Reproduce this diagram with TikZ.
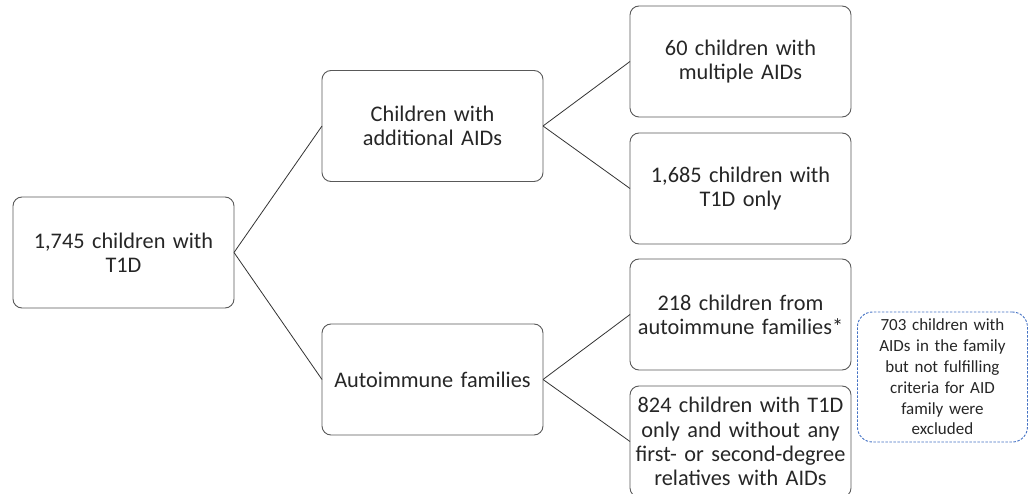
\documentclass[tikz,border=0pt]{standalone}
\usepackage{fontspec}
\setmainfont{Carlito}
\usetikzlibrary{positioning}
\definecolor{frame}{HTML}{595959}
\definecolor{dotblue}{HTML}{4472C4}

\begin{document}
\begin{tikzpicture}[
    x=1pt, y=1pt,
    node distance=16pt and 88pt,
    font=\fontsize{22.3}{24.3}\selectfont,
    text=black!85,
    box/.style={
      draw=frame,
      line width=.9pt,
      rounded corners=9pt,
      minimum width=221pt,
      minimum height=111pt,
      text width=219pt,
      inner xsep=1pt,
      align=center,
      outer sep=0
    },
    note/.style={
      draw=dotblue,
      line width=.9pt,
      dash pattern=on 2.5pt off 1.5pt,
      rounded corners=15pt,
      minimum width=170pt,
      minimum height=130pt,
      text width=164pt,
      inner xsep=3pt,
      align=center,
      font=\fontsize{17}{20.8}\selectfont
    },
    link/.style={draw=black!80, line width=.8pt}
  ]

  \useasboundingbox (0,0) rectangle (1035,-494);

  \node [box] (R) at (123.5,-252.5) {1,745 children with\\T1D};

  \node [box] (A) [right=88pt of R, yshift=126.5pt] {Children with\\additional AIDs};
  \node [box] (F) [right=88pt of R, yshift=-127pt] {Autoimmune families};

  \node [box] (A1) [right=87pt of A, yshift=64.5pt] {60 children with\\multiple AIDs};
  \node [box] (A2) [below=of A1] {1,685 children with\\T1D only};
  \node [box] (F1) [below=15pt of A2] {218 children from\\autoimmune families*};
  \node [box] (F2) [below=of F1] {824 children with T1D\\only and without any\\first- or second-degree\\relatives with AIDs};

  \node [note] (X) [right=6pt of F1, yshift=-62.5pt] {703 children with\\AIDs in the family\\but not fulfilling\\criteria for AID\\family were\\excluded};

  \path [link] (R.east) -- (A.west);
  \path [link] (R.east) -- (F.west);
  \path [link] (A.east) -- (A1.west);
  \path [link] (A.east) -- (A2.west);
  \path [link] (F.east) -- (F1.west);
  \path [link] (F.east) -- (F2.west);

\end{tikzpicture}
\end{document}
